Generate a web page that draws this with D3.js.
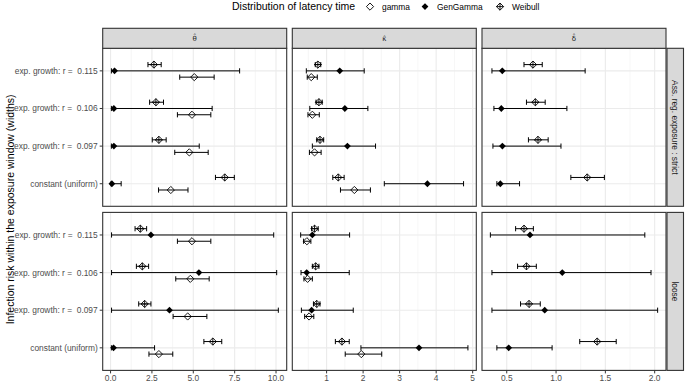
<!DOCTYPE html>
<html>
<body style="margin:0">
<script src="https://d3js.org/d3.v7.min.js"></script>
<style>
  body { background: #fff; }
  text { font-family: "Liberation Sans", Arial, sans-serif; }
  .tick-lab { fill: #4d4d4d; font-size: 8.4px; white-space: pre; }
  .strip-lab { fill: #1a1a1a; font-size: 8.4px; }
</style>
<script>
// categories (top to bottom)
const rows = ['exp. growth: r =  0.115', 'exp. growth: r =  0.106', 'exp. growth: r =  0.097', 'constant (uniform)']
const dists = ['gamma', 'GenGamma', 'Weibull']
const exposures = ['Ass. reg. exposure : strict', 'loose']
const params = ['\u03b8\u0302', '\u03ba\u0302', '\u03b4\u0302']

// [estimate, lower, upper] per row
const thetaStrictGamma = [[5.06, 4.18, 6.26], [4.92, 4.04, 6.06], [4.76, 3.88, 5.9], [3.64, 2.9, 4.68]]
const thetaStrictGenGamma = [[0.24, 0.05, 7.8], [0.2, 0.05, 6.14], [0.2, 0.05, 5.36], [0.08, 0.03, 0.64]]
const thetaStrictWeibull = [[2.62, 2.26, 3.06], [2.74, 2.36, 3.2], [2.92, 2.52, 3.36], [6.9, 6.34, 7.48]]
const thetaLooseGamma = [[4.92, 4.04, 6.06], [4.82, 3.94, 5.96], [4.66, 3.78, 5.82], [2.92, 2.32, 3.76]]
const thetaLooseGenGamma = [[2.44, 0.06, 9.86], [5.34, 0.06, 10.04], [3.56, 0.06, 10.14], [0.18, 0.05, 2.66]]
const thetaLooseWeibull = [[1.8, 1.48, 2.18], [1.92, 1.56, 2.3], [2.06, 1.7, 2.44], [6.18, 5.64, 6.72]]

const kappaStrictGamma = [[0.58, 0.47, 0.745], [0.61, 0.49, 0.8], [0.67, 0.53, 0.85], [1.76, 1.38, 2.2]]
const kappaStrictGenGamma = [[1.36, 0.445, 2.03], [1.5, 0.54, 2.13], [1.57, 0.61, 2.34], [3.76, 2.58, 4.75]]
const kappaStrictWeibull = [[0.76, 0.69, 0.84], [0.79, 0.71, 0.88], [0.82, 0.73, 0.92], [1.32, 1.17, 1.48]]
const kappaLooseGamma = [[0.46, 0.37, 0.57], [0.48, 0.38, 0.61], [0.52, 0.4, 0.65], [1.95, 1.51, 2.51]]
const kappaLooseGenGamma = [[0.61, 0.29, 1.63], [0.455, 0.3, 1.62], [0.59, 0.31, 1.73], [3.53, 1.94, 4.87]]
const kappaLooseWeibull = [[0.67, 0.59, 0.77], [0.7, 0.61, 0.79], [0.73, 0.64, 0.82], [1.42, 1.24, 1.62]]

const deltaStrictGenGamma = [[0.455, 0.35, 1.295], [0.445, 0.37, 1.11], [0.456, 0.36, 1.05], [0.435, 0.4, 0.63]]
const deltaStrictWeibull = [[0.766, 0.675, 0.86], [0.79, 0.7, 0.89], [0.817, 0.72, 0.92], [1.316, 1.15, 1.49]]
const deltaLooseGenGamma = [[0.736, 0.334, 1.9], [1.063, 0.35, 1.963], [0.885, 0.35, 2.03], [0.52, 0.4, 0.96]]
const deltaLooseWeibull = [[0.675, 0.59, 0.77], [0.7, 0.61, 0.8], [0.726, 0.64, 0.84], [1.417, 1.24, 1.61]]

const thetaTicks = [0, 2.5, 5, 7.5, 10]
const kappaTicks = [0, 1, 2, 3, 4, 5]
const deltaTicks = [0.5, 1, 1.5, 2]

// panel table built from the arrays above
const panels = [
  [ {gamma: thetaStrictGamma, GenGamma: thetaStrictGenGamma, Weibull: thetaStrictWeibull},
    {gamma: kappaStrictGamma, GenGamma: kappaStrictGenGamma, Weibull: kappaStrictWeibull},
    {GenGamma: deltaStrictGenGamma, Weibull: deltaStrictWeibull} ],
  [ {gamma: thetaLooseGamma, GenGamma: thetaLooseGenGamma, Weibull: thetaLooseWeibull},
    {gamma: kappaLooseGamma, GenGamma: kappaLooseGenGamma, Weibull: kappaLooseWeibull},
    {GenGamma: deltaLooseGenGamma, Weibull: deltaLooseWeibull} ]
]
const colTicks = [thetaTicks, kappaTicks, deltaTicks]
const colFormat = [d3.format('.1f'), d3.format('d'), d3.format('.1f')]

const W = 685, H = 382
const colLeft = [102.7, 292.3, 482.0], panelW = 184
const rowTop = [48.3, 212.4], panelH = 158
const stripH = 20

const svg = d3.select('body').append('svg')
  .attr('width', W).attr('height', H)

// x scales per column, free across columns, 5% expansion like ggplot
const xScales = colTicks.map((t, c) => {
  const vals = []
  panels.forEach(r => Object.values(r[c]).forEach(arr => arr.forEach(d => { vals.push(d[1], d[2]) })))
  const ext = d3.extent(vals)
  const pad = (ext[1] - ext[0]) * 0.05
  return d3.scaleLinear().domain([ext[0] - pad, ext[1] + pad]).range([colLeft[c], colLeft[c] + panelW])
})

const dodge = {Weibull: -1 / 6, GenGamma: 0, gamma: 1 / 6}

function diamond(g, x, y, s, type) {
  const p = `M${x},${y - s}L${x + s},${y}L${x},${y + s}L${x - s},${y}Z`
  if (type === 'GenGamma') {
    g.append('path').attr('d', p).attr('fill', '#000')
  } else {
    g.append('path').attr('d', p).attr('fill', 'none').attr('stroke', '#000').attr('stroke-width', 0.9)
    if (type === 'Weibull') {
      g.append('path').attr('d', `M${x - s},${y}H${x + s}M${x},${y - s}V${y + s}`)
        .attr('stroke', '#000').attr('stroke-width', 0.9)
    }
  }
}

panels.forEach((prow, r) => {
  const yScale = d3.scalePoint().domain(rows).range([rowTop[r], rowTop[r] + panelH]).padding(0.6)
  const step = yScale.step()

  prow.forEach((pdata, c) => {
    const x = xScales[c]
    const g = svg.append('g')
    g.append('rect').attr('x', colLeft[c]).attr('y', rowTop[r]).attr('width', panelW).attr('height', panelH)
      .attr('fill', '#fff')

    // minor grid
    const tk = colTicks[c]
    const minor = []
    for (let i = -1; i < tk.length; i++) {
      const a = i < 0 ? tk[0] - (tk[1] - tk[0]) : tk[i]
      const b = i < 0 ? tk[0] : (i + 1 < tk.length ? tk[i + 1] : tk[i] + (tk[1] - tk[0]))
      minor.push((a + b) / 2)
    }
    const dom = x.domain()
    g.selectAll('.minor').data(minor.filter(v => v >= dom[0] && v <= dom[1])).enter().append('line')
      .attr('x1', d => x(d)).attr('x2', d => x(d))
      .attr('y1', rowTop[r]).attr('y2', rowTop[r] + panelH)
      .attr('stroke', '#f0f0f0').attr('stroke-width', 0.6)
    g.selectAll('.major').data(tk.filter(v => v >= dom[0] && v <= dom[1])).enter().append('line')
      .attr('x1', d => x(d)).attr('x2', d => x(d))
      .attr('y1', rowTop[r]).attr('y2', rowTop[r] + panelH)
      .attr('stroke', '#ebebeb').attr('stroke-width', 1.1)
    g.selectAll('.hmajor').data(rows).enter().append('line')
      .attr('x1', colLeft[c]).attr('x2', colLeft[c] + panelW)
      .attr('y1', d => yScale(d)).attr('y2', d => yScale(d))
      .attr('stroke', '#ebebeb').attr('stroke-width', 1.1)

    // error bars + points
    dists.forEach(dist => {
      const arr = pdata[dist]
      if (!arr) return
      arr.forEach((d, i) => {
        const yy = yScale(rows[i]) + dodge[dist] * step
        g.append('line').attr('x1', x(d[1])).attr('x2', x(d[2])).attr('y1', yy).attr('y2', yy)
          .attr('stroke', '#000').attr('stroke-width', 1)
        ;[d[1], d[2]].forEach(v => {
          g.append('line').attr('x1', x(v)).attr('x2', x(v)).attr('y1', yy - 2.6).attr('y2', yy + 2.6)
            .attr('stroke', '#000').attr('stroke-width', 1)
        })
        diamond(g, x(d[0]), yy, dist === 'GenGamma' ? 3.4 : 3.6, dist)
      })
    })

    g.append('rect').attr('x', colLeft[c]).attr('y', rowTop[r]).attr('width', panelW).attr('height', panelH)
      .attr('fill', 'none').attr('stroke', '#333').attr('stroke-width', 1.1)

    // y axis on first column
    if (c === 0) {
      const ya = svg.append('g')
      rows.forEach(lab => {
        ya.append('line').attr('x1', colLeft[0] - 3).attr('x2', colLeft[0]).attr('y1', yScale(lab)).attr('y2', yScale(lab))
          .attr('stroke', '#333').attr('stroke-width', 1)
        ya.append('text').attr('class', 'tick-lab').attr('x', colLeft[0] - 5).attr('y', yScale(lab))
          .attr('dy', '0.35em').attr('text-anchor', 'end').text(lab)
      })
    }

    // x axis on bottom row
    if (r === 1) {
      const base = rowTop[r] + panelH
      tk.filter(v => v >= dom[0] && v <= dom[1]).forEach(v => {
        svg.append('line').attr('x1', x(v)).attr('x2', x(v)).attr('y1', base).attr('y2', base + 3)
          .attr('stroke', '#333').attr('stroke-width', 1)
        svg.append('text').attr('class', 'tick-lab').attr('x', x(v)).attr('y', base + 10.5)
          .attr('text-anchor', 'middle').text(colFormat[c](v))
      })
    }
  })

  // right strip
  const sx = colLeft[2] + panelW + 1
  svg.append('rect').attr('x', sx).attr('y', rowTop[r]).attr('width', 16.5).attr('height', panelH)
    .attr('fill', '#d9d9d9').attr('stroke', '#333').attr('stroke-width', 1.1)
  svg.append('text').attr('class', 'strip-lab')
    .attr('transform', `translate(${sx + 8.25},${rowTop[r] + panelH / 2}) rotate(90)`)
    .attr('text-anchor', 'middle').attr('dy', '0.35em').text(exposures[r])
})

// top strips
params.forEach((p, c) => {
  svg.append('rect').attr('x', colLeft[c]).attr('y', rowTop[0] - stripH).attr('width', panelW).attr('height', stripH)
    .attr('fill', '#d9d9d9').attr('stroke', '#333').attr('stroke-width', 1.1)
  svg.append('text').attr('class', 'strip-lab').attr('x', colLeft[c] + panelW / 2).attr('y', rowTop[0] - stripH / 2)
    .attr('dy', '0.35em').attr('text-anchor', 'middle').style('font-size', '7px')
    .style('font-family', 'DejaVu Sans').text(p)
})

// y axis title
svg.append('text').attr('transform', `translate(10,${(rowTop[0] + rowTop[1] + panelH) / 2}) rotate(-90)`)
  .attr('text-anchor', 'middle').attr('dy', '0.35em').style('font-size', '10.5px').attr('fill', '#000')
  .text('Infection risk within the exposure window (widths)')

// legend
const leg = svg.append('g')
leg.append('text').attr('x', 232).attr('y', 6.6).attr('dy', '0.35em').style('font-size', '10.5px')
  .text('Distribution of latency time')
const legX = {gamma: 370, GenGamma: 425, Weibull: 500}
dists.forEach(dist => {
  diamond(leg, legX[dist], 6.6, dist === 'GenGamma' ? 3.4 : 3.6, dist)
  leg.append('text').attr('x', legX[dist] + 12).attr('y', 6.6).attr('dy', '0.35em')
    .style('font-size', '8.4px').attr('fill', '#000').text(dist)
})
</script>
</body>
</html>
